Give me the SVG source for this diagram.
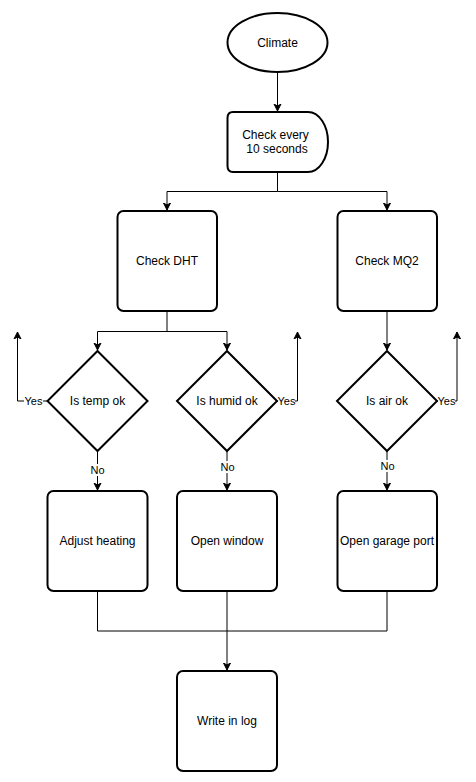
<svg xmlns="http://www.w3.org/2000/svg" width="476" height="782" viewBox="0 0 476 782">
<style>
.shape{fill:#ffffff;stroke:#000000;stroke-width:2}
.edge{fill:none;stroke:#000000;stroke-width:1}
.lbl{font-family:"Liberation Sans",Arial,Helvetica,sans-serif;font-size:12px;fill:#000000;text-anchor:middle}
.el{font-family:"Liberation Sans",Arial,Helvetica,sans-serif;font-size:11px;fill:#000000;text-anchor:middle}
.bg{fill:#ffffff;stroke:none}
</style>
<defs>
<marker id="arr" markerUnits="userSpaceOnUse" markerWidth="10" markerHeight="10" viewBox="0 0 10 10" refX="7" refY="5" orient="auto">
<path d="M0,1.5 L7,5 L0,8.5 L2,5 Z" fill="#000000" stroke="#000000" stroke-width="1"/>
</marker>
</defs>
<rect x="0" y="0" width="476" height="782" fill="#ffffff"/>
<g id="edges">
<path class="edge" d="M277.5,72 L277.5,111" marker-end="url(#arr)"/>
<path class="edge" d="M277.5,172 L277.5,191.5 L167,191.5 L167,210" marker-end="url(#arr)"/>
<path class="edge" d="M277.5,191.5 L387,191.5 L387,210" marker-end="url(#arr)"/>
<path class="edge" d="M167,311 L167,331.5 L97.5,331.5 L97.5,350" marker-end="url(#arr)"/>
<path class="edge" d="M167,331.5 L227,331.5 L227,350" marker-end="url(#arr)"/>
<path class="edge" d="M387,311 L387,350" marker-end="url(#arr)"/>
<path class="edge" d="M47.5,401 L17.5,401 L17.5,332" marker-end="url(#arr)"/>
<path class="edge" d="M277,401 L297.5,401 L297.5,332" marker-end="url(#arr)"/>
<path class="edge" d="M437,401 L457,401 L457,332" marker-end="url(#arr)"/>
<path class="edge" d="M97.5,451 L97.5,490" marker-end="url(#arr)"/>
<path class="edge" d="M227,451 L227,490" marker-end="url(#arr)"/>
<path class="edge" d="M387,451 L387,490" marker-end="url(#arr)"/>
<path class="edge" d="M97.5,591 L97.5,631 L387,631 L387,591"/>
<path class="edge" d="M227,591 L227,670" marker-end="url(#arr)"/>
<rect class="bg" x="24" y="395" width="19" height="12"/>
<text class="el" x="33.5" y="405">Yes</text>
<rect class="bg" x="278" y="395" width="17" height="12"/>
<text class="el" x="286.5" y="405">Yes</text>
<rect class="bg" x="438" y="395" width="17" height="12"/>
<text class="el" x="446.5" y="405">Yes</text>
<rect class="bg" x="90" y="464" width="15" height="12"/>
<text class="el" x="97.5" y="474">No</text>
<rect class="bg" x="220" y="461" width="15" height="12"/>
<text class="el" x="227.5" y="471">No</text>
<rect class="bg" x="380" y="460" width="15" height="12"/>
<text class="el" x="387.5" y="470">No</text>
</g>
<g id="climate">
<ellipse class="shape" cx="277.5" cy="42.5" rx="50" ry="29.5"/>
<text class="lbl" x="277.5" y="46.5">Climate</text>
</g>
<g id="check-every">
<path class="shape" d="M233,112 L308,112 A20,30 0 0 1 308,172 L233,172 Q227.5,172 227.5,166 L227.5,118 Q227.5,112 233,112 Z"/>
<text class="lbl" x="275.5" y="139">Check every</text>
<text class="lbl" x="277" y="153">10 seconds</text>
</g>
<g id="check-dht">
<rect class="shape" x="117.5" y="211" width="99.5" height="100" rx="6"/>
<text class="lbl" x="167" y="265">Check DHT</text>
</g>
<g id="check-mq2">
<rect class="shape" x="337.5" y="211" width="99.5" height="100" rx="6"/>
<text class="lbl" x="387" y="265">Check MQ2</text>
</g>
<g id="is-temp-ok">
<path class="shape" d="M97.5,351 L147.5,401 L97.5,451 L47.5,401 Z"/>
<text class="lbl" x="97.5" y="405">Is temp ok</text>
</g>
<g id="is-humid-ok">
<path class="shape" d="M227,351 L277,401 L227,451 L177,401 Z"/>
<text class="lbl" x="227" y="405">Is humid ok</text>
</g>
<g id="is-air-ok">
<path class="shape" d="M387,351 L437,401 L387,451 L337,401 Z"/>
<text class="lbl" x="387" y="405">Is air ok</text>
</g>
<g id="adjust-heating">
<rect class="shape" x="47.5" y="491" width="100" height="100" rx="6"/>
<text class="lbl" x="97.5" y="545">Adjust heating</text>
</g>
<g id="open-window">
<rect class="shape" x="177" y="491" width="100" height="100" rx="6"/>
<text class="lbl" x="227" y="545">Open window</text>
</g>
<g id="open-garage-port">
<rect class="shape" x="337.5" y="491" width="99.5" height="100" rx="6"/>
<text class="lbl" x="387" y="545">Open garage port</text>
</g>
<g id="write-in-log">
<rect class="shape" x="177" y="671" width="100" height="100" rx="6"/>
<text class="lbl" x="227" y="725">Write in log</text>
</g>
</svg>
